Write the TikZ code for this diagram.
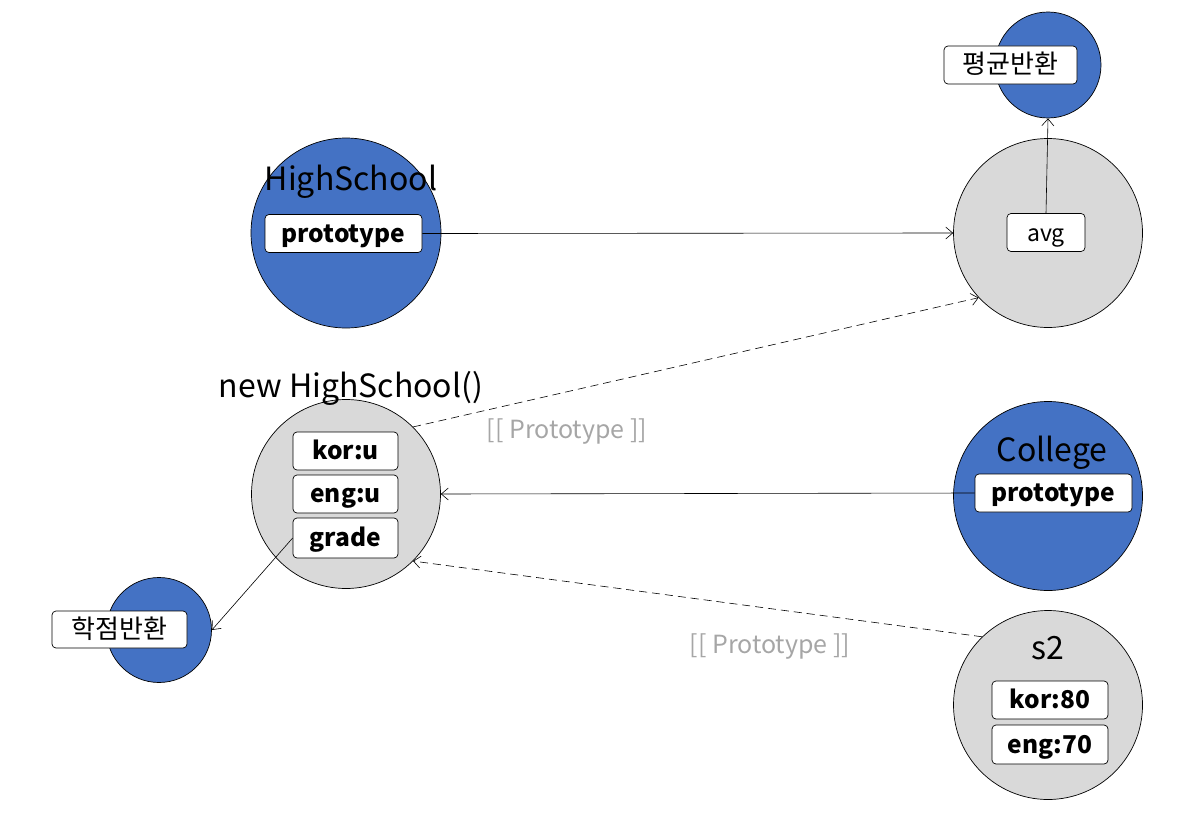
\documentclass[tikz,border=0pt]{standalone}
\usepackage{fontspec}
\setmainfont{Noto Sans CJK KR}
\usetikzlibrary{arrows.meta}
\definecolor{cblue}{HTML}{4472C4}
\definecolor{cgray}{HTML}{D9D9D9}
\definecolor{ctext}{HTML}{A6A6A6}
\tikzset{
  bluecirc/.style={circle,draw=black,line width=0.7pt,fill=cblue,inner sep=0pt,minimum size=#1},
  graycirc/.style={circle,draw=black,line width=0.7pt,fill=cgray,inner sep=0pt,minimum size=#1},
  wbox/.style={draw=black,line width=0.7pt,fill=white,rounded corners=4pt,inner sep=0pt,minimum width=#1,minimum height=38pt,text height=19pt,text depth=2pt},
  title/.style={font=\fontsize{32}{36}\selectfont,inner sep=0pt,anchor=base},
  bold/.style={font=\fontsize{24.5}{28}\selectfont\bfseries},
  kor/.style={font=\fontsize{26}{30}\selectfont},
  conn/.style={line width=0.6pt,-{Straight Barb[length=7pt,width=12pt]}},
  plabel/.style={text=ctext,font=\fontsize{25}{28}\selectfont,inner sep=0pt,anchor=base}
}
\begin{document}
\begin{tikzpicture}[x=1pt,y=-1pt]
\useasboundingbox (0,0) rectangle (1196,816);
% circles
\node[bluecirc=190pt] (hs) at (346,233) {};
\node[graycirc=189pt] (avgc) at (1048,233) {};
\node[bluecirc=106pt] (pyeong) at (1048,65) {};
\node[graycirc=189pt] (newhs) at (346,494) {};
\node[bluecirc=189pt] (col) at (1048,496) {};
\node[graycirc=189pt] (s2c) at (1048,705) {};
\node[bluecirc=105pt] (hak) at (159,630) {};
% titles
\node[title] (hst) at (351,190) {HighSchool};
\node[title] (nhst) at (351,397) {new HighSchool()};
\node[title] (colt) at (1052,461) {College};
\node[title] (s2t) at (1048,659) {s2};
% boxes
\node[wbox=157pt,bold] (proto1) at (343.5,233.5) {prototype};
\node[wbox=78pt,font=\fontsize{23}{26}\selectfont] (avgbox) at (1046,232.5) {avg};
\node[wbox=133pt,kor] (pyeongbox) at (1010.5,65) {평균반환};
\node[wbox=105pt,bold] (koru) at (345.5,451) {kor:u};
\node[wbox=105pt,bold] (engu) at (345.5,494) {eng:u};
\node[wbox=105pt,bold,minimum height=40pt] (grade) at (345.5,538) {grade};
\node[wbox=157pt,bold] (proto2) at (1053.5,493) {prototype};
\node[wbox=116pt,bold] (kor80) at (1050,700) {kor:80};
\node[wbox=116pt,bold,minimum height=39pt] (eng70) at (1050,744.5) {eng:70};
\node[wbox=135pt,kor,minimum height=37pt] (hakbox) at (119.5,629.5) {학점반환};
% labels
\node[plabel] (pl1) at (567,438) {[[ Prototype ]]};
\node[plabel] (pl2) at (770,653) {[[ Prototype ]]};
% connectors
\draw[conn] (proto1.east) -- (avgc.west);
\draw[conn] (avgbox.north) -- (pyeong.south);
\draw[conn,dashed,dash pattern=on 8pt off 5pt] (newhs.45) -- (avgc.223);
\draw[conn] (proto2.west) -- (newhs.east);
\draw[conn] (grade.west) -- (hak.east);
\draw[conn,dashed,dash pattern=on 8pt off 5pt] (s2c.134) -- (newhs.315);
\end{tikzpicture}
\end{document}
